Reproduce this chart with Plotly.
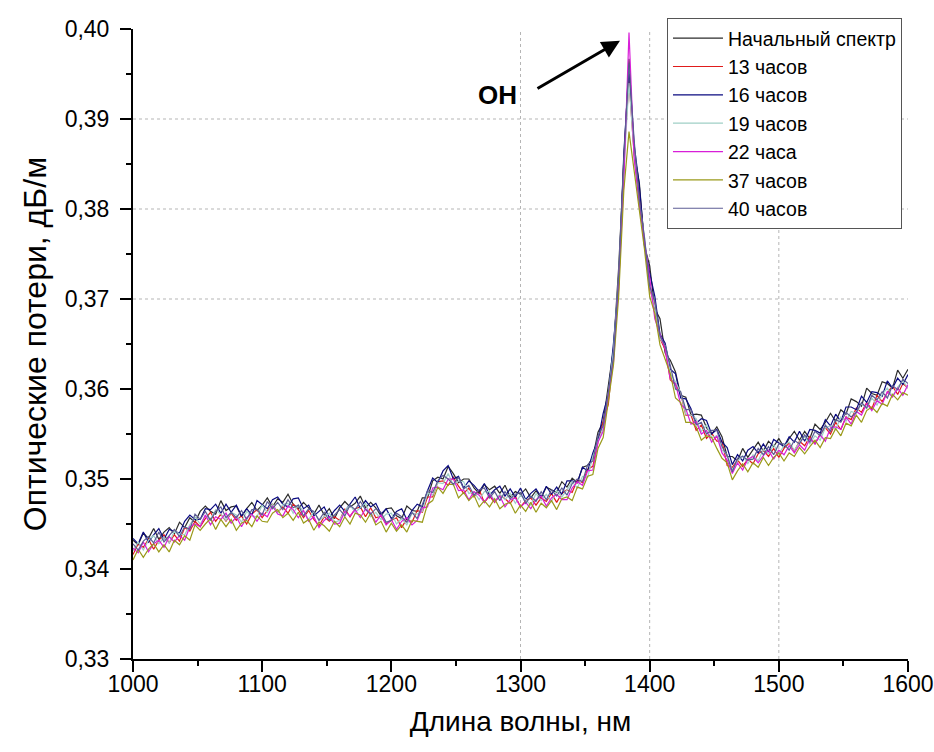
import plotly.graph_objects as go

wavelength_nm = list(range(1000, 1601, 4))

initial_spectrum = [
0.3432,0.3427,0.3440,0.3434,0.3445,0.3433,0.3441,0.3446,0.3439,0.3452,
0.3446,0.3457,0.3452,0.3464,0.3470,0.3464,0.3461,0.3476,0.3465,0.3469,
0.3470,0.3458,0.3467,0.3474,0.3465,0.3471,0.3479,0.3469,0.3478,0.3474,
0.3483,0.3472,0.3467,0.3474,0.3468,0.3461,0.3471,0.3460,0.3467,0.3456,
0.3468,0.3475,0.3469,0.3473,0.3481,0.3468,0.3474,0.3468,0.3459,0.3467,
0.3468,0.3459,0.3456,0.3470,0.3465,0.3464,0.3479,0.3479,0.3498,0.3502,
0.3500,0.3514,0.3506,0.3496,0.3500,0.3500,0.3490,0.3484,0.3494,0.3488,
0.3492,0.3484,0.3493,0.3480,0.3486,0.3483,0.3489,0.3479,0.3487,0.3479,
0.3491,0.3488,0.3485,0.3497,0.3491,0.3501,0.3496,0.3513,0.3515,0.3524,
0.3552,0.3563,0.3603,0.3645,0.3735,0.3847,0.3967,0.3862,0.3829,0.3759,
0.3737,0.3689,0.3678,0.3640,0.3632,0.3619,0.3593,0.3591,0.3571,0.3572,
0.3571,0.3557,0.3550,0.3558,0.3547,0.3525,0.3525,0.3520,0.3534,0.3524,
0.3533,0.3541,0.3531,0.3542,0.3536,0.3545,0.3535,0.3545,0.3553,0.3543,
0.3553,0.3545,0.3561,0.3555,0.3563,0.3573,0.3564,0.3577,0.3572,0.3589,
0.3586,0.3581,0.3601,0.3595,0.3593,0.3608,0.3606,0.3601,0.3621,0.3612,
0.3622]

hours_13 = [
0.3416,0.3428,0.3424,0.3433,0.3422,0.3432,0.3438,0.3429,0.3438,0.3431,
0.3446,0.3442,0.3453,0.3447,0.3456,0.3463,0.3453,0.3461,0.3453,0.3462,
0.3454,0.3459,0.3450,0.3461,0.3466,0.3457,0.3465,0.3472,0.3463,0.3469,
0.3462,0.3472,0.3466,0.3457,0.3465,0.3455,0.3448,0.3458,0.3453,0.3458,
0.3454,0.3467,0.3458,0.3467,0.3469,0.3458,0.3468,0.3457,0.3459,0.3450,
0.3454,0.3457,0.3446,0.3456,0.3452,0.3465,0.3463,0.3480,0.3480,0.3497,
0.3498,0.3493,0.3502,0.3492,0.3484,0.3490,0.3480,0.3488,0.3474,0.3481,
0.3474,0.3482,0.3478,0.3473,0.3481,0.3469,0.3476,0.3479,0.3471,0.3479,
0.3475,0.3484,0.3474,0.3484,0.3488,0.3485,0.3499,0.3496,0.3511,0.3514,
0.3541,0.3564,0.3583,0.3642,0.3712,0.3856,0.3943,0.3860,0.3816,0.3763,
0.3711,0.3693,0.3656,0.3644,0.3610,0.3605,0.3595,0.3571,0.3571,0.3554,
0.3560,0.3545,0.3551,0.3542,0.3542,0.3515,0.3513,0.3521,0.3514,0.3522,
0.3517,0.3528,0.3532,0.3525,0.3534,0.3524,0.3534,0.3540,0.3531,0.3542,
0.3537,0.3547,0.3539,0.3550,0.3557,0.3550,0.3563,0.3555,0.3569,0.3566,
0.3579,0.3574,0.3585,0.3578,0.3593,0.3586,0.3596,0.3603,0.3594,0.3606,
0.3601]

hours_16 = [
0.3434,0.3428,0.3441,0.3430,0.3438,0.3445,0.3433,0.3444,0.3442,0.3440,
0.3453,0.3460,0.3455,0.3455,0.3467,0.3466,0.3472,0.3462,0.3472,0.3463,
0.3471,0.3459,0.3467,0.3460,0.3476,0.3471,0.3467,0.3477,0.3480,0.3472,
0.3469,0.3478,0.3479,0.3467,0.3471,0.3459,0.3464,0.3469,0.3457,0.3465,
0.3471,0.3464,0.3472,0.3480,0.3467,0.3476,0.3469,0.3473,0.3461,0.3467,
0.3456,0.3464,0.3467,0.3455,0.3465,0.3472,0.3469,0.3487,0.3501,0.3496,
0.3509,0.3515,0.3500,0.3503,0.3490,0.3498,0.3493,0.3486,0.3495,0.3482,
0.3488,0.3492,0.3481,0.3489,0.3480,0.3490,0.3477,0.3484,0.3489,0.3480,
0.3492,0.3483,0.3491,0.3483,0.3498,0.3498,0.3496,0.3513,0.3509,0.3529,
0.3543,0.3573,0.3594,0.3651,0.3718,0.3862,0.3956,0.3871,0.3826,0.3760,
0.3729,0.3703,0.3661,0.3651,0.3622,0.3617,0.3590,0.3589,0.3578,0.3562,
0.3567,0.3565,0.3550,0.3555,0.3541,0.3535,0.3516,0.3527,0.3520,0.3532,
0.3536,0.3529,0.3539,0.3530,0.3544,0.3540,0.3536,0.3547,0.3541,0.3553,
0.3542,0.3555,0.3554,0.3551,0.3566,0.3559,0.3572,0.3564,0.3580,0.3580,
0.3577,0.3592,0.3585,0.3597,0.3596,0.3592,0.3609,0.3601,0.3612,0.3605,
0.3616]

hours_19 = [
0.3420,0.3430,0.3421,0.3432,0.3437,0.3428,0.3435,0.3429,0.3442,0.3439,
0.3438,0.3449,0.3458,0.3450,0.3459,0.3455,0.3466,0.3461,0.3454,0.3463,
0.3460,0.3452,0.3464,0.3459,0.3458,0.3471,0.3463,0.3472,0.3462,0.3472,
0.3473,0.3462,0.3471,0.3464,0.3455,0.3464,0.3454,0.3458,0.3462,0.3452,
0.3454,0.3465,0.3471,0.3463,0.3468,0.3473,0.3458,0.3463,0.3455,0.3461,
0.3462,0.3450,0.3456,0.3449,0.3462,0.3461,0.3464,0.3484,0.3482,0.3496,
0.3495,0.3506,0.3493,0.3498,0.3497,0.3484,0.3486,0.3477,0.3486,0.3486,
0.3475,0.3483,0.3477,0.3484,0.3473,0.3482,0.3477,0.3471,0.3484,0.3476,
0.3483,0.3475,0.3487,0.3480,0.3488,0.3497,0.3490,0.3503,0.3502,0.3525,
0.3542,0.3556,0.3595,0.3643,0.3724,0.3844,0.3940,0.3860,0.3806,0.3769,
0.3714,0.3691,0.3656,0.3648,0.3617,0.3608,0.3596,0.3572,0.3571,0.3567,
0.3553,0.3560,0.3546,0.3548,0.3532,0.3527,0.3510,0.3520,0.3526,0.3517,
0.3527,0.3520,0.3533,0.3528,0.3538,0.3528,0.3537,0.3541,0.3532,0.3541,
0.3547,0.3539,0.3548,0.3543,0.3557,0.3559,0.3555,0.3569,0.3564,0.3575,
0.3573,0.3584,0.3578,0.3590,0.3582,0.3594,0.3601,0.3592,0.3602,0.3609,
0.3601]

hours_22 = [
0.3423,0.3418,0.3430,0.3419,0.3428,0.3432,0.3424,0.3436,0.3430,0.3437,
0.3432,0.3447,0.3450,0.3447,0.3460,0.3449,0.3458,0.3455,0.3462,0.3451,
0.3458,0.3447,0.3457,0.3461,0.3453,0.3462,0.3458,0.3470,0.3461,0.3459,
0.3470,0.3466,0.3457,0.3465,0.3453,0.3458,0.3446,0.3454,0.3458,0.3450,
0.3451,0.3464,0.3459,0.3466,0.3457,0.3467,0.3462,0.3452,0.3460,0.3449,
0.3455,0.3444,0.3453,0.3457,0.3449,0.3454,0.3468,0.3469,0.3490,0.3491,
0.3488,0.3500,0.3500,0.3487,0.3488,0.3477,0.3486,0.3482,0.3474,0.3483,
0.3475,0.3481,0.3469,0.3477,0.3479,0.3469,0.3474,0.3467,0.3477,0.3481,
0.3470,0.3479,0.3483,0.3477,0.3477,0.3490,0.3497,0.3493,0.3509,0.3510,
0.3541,0.3553,0.3593,0.3630,0.3719,0.3831,0.3996,0.3856,0.3804,0.3764,
0.3724,0.3678,0.3662,0.3644,0.3611,0.3606,0.3583,0.3578,0.3561,0.3564,
0.3550,0.3554,0.3541,0.3548,0.3529,0.3521,0.3506,0.3518,0.3510,0.3522,
0.3525,0.3518,0.3526,0.3532,0.3522,0.3532,0.3527,0.3537,0.3529,0.3538,
0.3532,0.3545,0.3539,0.3549,0.3542,0.3557,0.3558,0.3555,0.3569,0.3561,
0.3575,0.3571,0.3584,0.3576,0.3587,0.3583,0.3597,0.3591,0.3601,0.3593,
0.3605]

hours_37 = [
0.3410,0.3422,0.3413,0.3422,0.3428,0.3419,0.3427,0.3419,0.3432,0.3427,
0.3437,0.3432,0.3449,0.3443,0.3450,0.3456,0.3444,0.3455,0.3447,0.3455,
0.3443,0.3451,0.3454,0.3447,0.3459,0.3453,0.3452,0.3462,0.3466,0.3457,
0.3462,0.3454,0.3463,0.3451,0.3455,0.3443,0.3452,0.3448,0.3442,0.3453,
0.3447,0.3458,0.3450,0.3462,0.3460,0.3452,0.3462,0.3449,0.3453,0.3441,
0.3451,0.3442,0.3449,0.3441,0.3454,0.3453,0.3452,0.3472,0.3476,0.3491,
0.3484,0.3494,0.3494,0.3479,0.3485,0.3476,0.3482,0.3469,0.3476,0.3469,
0.3478,0.3467,0.3472,0.3474,0.3462,0.3471,0.3464,0.3474,0.3463,0.3473,
0.3468,0.3476,0.3466,0.3478,0.3480,0.3476,0.3491,0.3489,0.3503,0.3505,
0.3534,0.3546,0.3585,0.3627,0.3703,0.3821,0.3886,0.3841,0.3797,0.3755,
0.3703,0.3684,0.3649,0.3634,0.3617,0.3590,0.3585,0.3563,0.3563,0.3558,
0.3543,0.3548,0.3546,0.3534,0.3523,0.3518,0.3499,0.3509,0.3517,0.3508,
0.3518,0.3513,0.3524,0.3515,0.3524,0.3529,0.3520,0.3529,0.3525,0.3535,
0.3528,0.3536,0.3543,0.3535,0.3546,0.3545,0.3556,0.3548,0.3562,0.3559,
0.3571,0.3563,0.3576,0.3580,0.3574,0.3584,0.3581,0.3594,0.3588,0.3596,
0.3593]

hours_40 = [
0.3428,0.3421,0.3431,0.3436,0.3429,0.3441,0.3430,0.3437,0.3444,0.3436,
0.3447,0.3444,0.3461,0.3455,0.3464,0.3454,0.3464,0.3469,0.3457,0.3463,
0.3457,0.3465,0.3455,0.3466,0.3466,0.3460,0.3475,0.3467,0.3474,0.3466,
0.3477,0.3468,0.3471,0.3459,0.3467,0.3464,0.3454,0.3463,0.3454,0.3460,
0.3466,0.3459,0.3471,0.3466,0.3475,0.3466,0.3461,0.3467,0.3463,0.3452,
0.3454,0.3462,0.3458,0.3452,0.3463,0.3456,0.3472,0.3487,0.3485,0.3498,
0.3504,0.3500,0.3494,0.3502,0.3489,0.3493,0.3482,0.3488,0.3490,0.3479,
0.3486,0.3476,0.3486,0.3478,0.3483,0.3485,0.3473,0.3481,0.3475,0.3486,
0.3477,0.3488,0.3481,0.3490,0.3482,0.3495,0.3500,0.3497,0.3516,0.3520,
0.3548,0.3559,0.3597,0.3636,0.3726,0.3857,0.3962,0.3876,0.3811,0.3768,
0.3714,0.3698,0.3659,0.3648,0.3626,0.3600,0.3597,0.3577,0.3577,0.3560,
0.3563,0.3550,0.3554,0.3554,0.3536,0.3526,0.3508,0.3523,0.3525,0.3521,
0.3522,0.3534,0.3527,0.3536,0.3527,0.3539,0.3539,0.3532,0.3543,0.3539,
0.3549,0.3541,0.3553,0.3548,0.3560,0.3553,0.3566,0.3563,0.3574,0.3569,
0.3574,0.3585,0.3579,0.3593,0.3588,0.3597,0.3590,0.3604,0.3599,0.3611,
0.3606]

series_names = ["Начальный спектр", "13 часов", "16 часов", "19 часов",
                "22 часа", "37 часов", "40 часов"]
series_values = [initial_spectrum, hours_13, hours_16, hours_19,
                 hours_22, hours_37, hours_40]
series_colors = ["#2b2b2b", "#e01b1b", "#0a0a80", "#9fcfc6",
                 "#d81ed8", "#9a9a1a", "#5c5c94"]

grid_x = [1300, 1400, 1500]
grid_y = [0.37, 0.38, 0.39]

FONT = "Liberation Sans, Arial, sans-serif"

fig = go.Figure()
for name, vals, col in zip(series_names, series_values, series_colors):
    fig.add_trace(go.Scatter(x=wavelength_nm, y=vals, mode="lines", name=name,
                             line=dict(color=col, width=1.2)))

shapes = []
for gx in grid_x:
    shapes.append(dict(type="line", xref="x", yref="paper", x0=gx, x1=gx, y0=0, y1=1,
                       line=dict(color="#b5b5b5", width=1, dash="dot"), layer="below"))
for gy in grid_y:
    shapes.append(dict(type="line", xref="paper", yref="y", x0=0, x1=1, y0=gy, y1=gy,
                       line=dict(color="#b5b5b5", width=1, dash="dot"), layer="below"))

fig.update_layout(
    width=934, height=752,
    margin=dict(l=133, r=26, t=29, b=93, autoexpand=False),
    paper_bgcolor="white", plot_bgcolor="white",
    separators=", ",
    font=dict(family=FONT, color="black"),
    shapes=shapes,
    showlegend=True,
    legend=dict(x=0.689, y=1.0175, xanchor="left", yanchor="top",
                bgcolor="white", bordercolor="#555555", borderwidth=1,
                font=dict(family=FONT, size=19.5, color="black"),
                itemwidth=50, tracegroupgap=0),
    xaxis=dict(range=[1000, 1600], dtick=100, tick0=1000, automargin=False,
               ticklabelstandoff=-8,
               showline=True, linecolor="black", linewidth=2,
               ticks="outside", ticklen=11, tickwidth=2, tickcolor="black",
               minor=dict(ticks="outside", ticklen=5, tickwidth=2, dtick=50,
                          tickcolor="black", showgrid=False),
               showgrid=False, zeroline=False,
               tickfont=dict(family=FONT, size=23),
               title=dict(text="Длина волны, нм", font=dict(family=FONT, size=28),
                          standoff=16)),
    yaxis=dict(range=[0.33, 0.40], dtick=0.01, tick0=0.33, tickformat=".2f",
               automargin=False, ticklabelstandoff=6,
               showline=True, linecolor="black", linewidth=2,
               ticks="outside", ticklen=11, tickwidth=2, tickcolor="black",
               minor=dict(ticks="outside", ticklen=5, tickwidth=2, dtick=0.005,
                          tickcolor="black", showgrid=False),
               showgrid=False, zeroline=False,
               tickfont=dict(family=FONT, size=23),
               title=dict(text="Оптические потери, дБ/м", font=dict(family=FONT, size=32),
                          standoff=8)),
    annotations=[
        dict(x=1282, y=0.3927, xref="x", yref="y", text="<b>OH</b>", showarrow=False,
             font=dict(family=FONT, size=26, color="black")),
        dict(x=1377, y=0.3987, xref="x", yref="y", ax=1312, ay=0.3933,
             axref="x", ayref="y", text="", showarrow=True, arrowhead=2,
             arrowsize=1.2, arrowwidth=3, arrowcolor="black"),
    ],
)

fig.write_html("out.html",
               config={"displayModeBar": False},
               post_script="document.body.style.margin='0px';document.body.style.overflow='hidden';")
